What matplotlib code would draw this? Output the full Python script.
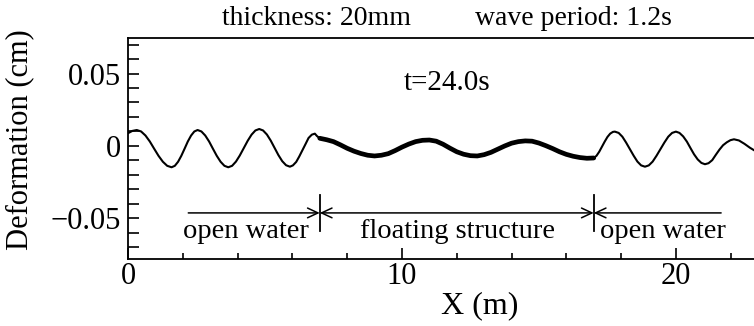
import matplotlib
matplotlib.use("Agg")
import matplotlib.pyplot as plt
from matplotlib.ticker import MultipleLocator

plt.rcParams['font.family'] = ['Liberation Serif', 'DejaVu Serif']

# left open-water segment (m, cm)
x_left = [0.00, 0.16, 0.32, 0.479, 0.638, 0.796, 0.955, 1.114, 1.273, 1.431, 1.59,
          1.709, 1.828, 1.946, 2.065, 2.184, 2.303, 2.421, 2.54,
          2.68, 2.82, 2.96, 3.10, 3.24, 3.38, 3.52, 3.66,
          3.80, 3.94, 4.08, 4.225, 4.37, 4.51, 4.65, 4.79,
          4.93, 5.07, 5.21, 5.35, 5.49, 5.63, 5.77, 5.91,
          6.02, 6.14, 6.25, 6.365, 6.48, 6.59, 6.71, 6.82, 6.90, 7.00]
y_left = [0.0088, 0.0104, 0.0110, 0.0100, 0.0072, 0.0031, -0.0019, -0.0068, -0.0109, -0.0137, -0.0147,
          -0.0137, -0.0109, -0.0068, -0.0019, 0.0031, 0.0072, 0.0100, 0.0110,
          0.0100, 0.0072, 0.0031, -0.0019, -0.0068, -0.0109, -0.0137, -0.0147,
          -0.0137, -0.0108, -0.0066, -0.0015, 0.0036, 0.0078, 0.0107, 0.0117,
          0.0107, 0.0079, 0.0037, -0.0013, -0.0063, -0.0105, -0.0133, -0.0143,
          -0.0134, -0.0110, -0.0073, -0.0030, 0.0013, 0.0055, 0.0078, 0.0085, 0.0068, 0.0053]

# floating structure segment
x_mid = [7.00, 7.25, 7.50, 7.75, 8.00, 8.25, 8.50, 8.75, 9.00, 9.25, 9.50, 9.75,
         10.00, 10.25, 10.50, 10.75, 11.00, 11.25, 11.50, 11.75, 12.00, 12.25, 12.50, 12.75,
         13.00, 13.25, 13.50, 13.75, 14.00, 14.25, 14.50, 14.75, 15.00, 15.25, 15.50, 15.75,
         16.00, 16.25, 16.50, 16.75, 17.00]
y_mid = [0.0053, 0.0043, 0.0030, 0.0008, -0.0016, -0.0036, -0.0052, -0.0064, -0.0069, -0.0064, -0.0053, -0.0032,
         -0.0008, 0.0013, 0.0030, 0.0039, 0.0041, 0.0033, 0.0012, -0.0015, -0.0040, -0.0057, -0.0067, -0.0069,
         -0.0060, -0.0044, -0.0022, 0.0000, 0.0019, 0.0030, 0.0035, 0.0033, 0.0020, 0.0002, -0.0018, -0.0040,
         -0.0058, -0.0071, -0.0080, -0.0085, -0.0083]

# right open-water segment
x_right = [17.00, 17.10, 17.20, 17.30, 17.40, 17.50, 17.60, 17.70, 17.77,
           17.91, 18.045, 18.18, 18.32, 18.46, 18.595, 18.73, 18.87,
           19.01, 19.15, 19.29, 19.435, 19.58, 19.72, 19.86, 20.00,
           20.13, 20.265, 20.40, 20.53, 20.66, 20.795, 20.93, 21.06,
           21.19, 21.325, 21.46, 21.59, 21.72, 21.855, 21.99, 22.12,
           22.30, 22.50, 22.70, 22.90]
y_right = [-0.0083, -0.0068, -0.0040, -0.0005, 0.0030, 0.0062, 0.0085, 0.0097, 0.0099,
           0.0090, 0.0064, 0.0024, -0.0022, -0.0068, -0.0108, -0.0134, -0.0143,
           -0.0134, -0.0108, -0.0068, -0.0022, 0.0024, 0.0064, 0.0090, 0.0099,
           0.0090, 0.0066, 0.0030, -0.0014, -0.0057, -0.0093, -0.0117, -0.0126,
           -0.0119, -0.0098, -0.0060, -0.0025, 0.0005, 0.0025, 0.0040, 0.0046,
           0.0038, 0.0015, -0.0012, -0.0035]

x_ticks = [0, 10, 20]
y_ticks = [-0.05, 0, 0.05]
y_tick_labels = ['\u22120.05', '0', '0.05']
boundaries = [7.0, 17.0]
region_labels = ['open water', 'floating structure', 'open water']
region_label_x = [4.29, 12.04, 19.53]
arrow_start = 2.2
arrow_end = 21.65

fig = plt.figure(figsize=(7.54, 3.26), dpi=100)
ax = fig.add_axes([128/754, (326-259)/326, 1 - 128/754, (259-38)/326])

ax.plot(x_left, y_left, color='black', lw=1.5, solid_joinstyle='round')
ax.plot(x_mid, y_mid, color='black', lw=3.4, solid_capstyle='round', solid_joinstyle='round')
ax.plot(x_right, y_right, color='black', lw=1.5, solid_joinstyle='round')

ax.set_xlim(0, 22.85)
ax.set_ylim(-0.078, 0.0745)

ax.spines['right'].set_visible(False)
for s in ['left', 'bottom', 'top']:
    ax.spines[s].set_linewidth(1.3)

ax.set_xticks(x_ticks)
ax.set_xticklabels([str(v) for v in x_ticks])
ax.xaxis.set_minor_locator(MultipleLocator(2))
ax.set_yticks(y_ticks)
ax.set_yticklabels(y_tick_labels)
ax.yaxis.set_minor_locator(MultipleLocator(0.01))
ax.tick_params(axis='both', which='both', direction='in', top=False, right=False, width=1.2)
ax.tick_params(axis='x', which='major', length=8, labelsize=22, pad=2)
ax.tick_params(axis='x', which='minor', length=4)
ax.tick_params(axis='y', which='both', length=8, labelsize=22, pad=5)

ax.set_xlabel('X (m)', fontsize=23, va='top')
ax.xaxis.set_label_coords((480 - 128) / 626, (259 - 291) / 221)
fig.text(20/754, 1 - 140/326, 'Deformation (cm)', fontsize=22, rotation=90, ha='center', va='center')

# region annotations
ya = -0.0462
arrow_kw = dict(lw=1.1, color='black', shrinkA=0, shrinkB=0)
ax.annotate('', xy=(boundaries[0], ya), xytext=(arrow_start, ya),
            arrowprops=dict(arrowstyle='->,head_length=0.75,head_width=0.35', **arrow_kw))
ax.annotate('', xy=(boundaries[1], ya), xytext=(boundaries[0], ya),
            arrowprops=dict(arrowstyle='<->,head_length=0.75,head_width=0.35', **arrow_kw))
ax.annotate('', xy=(boundaries[1], ya), xytext=(arrow_end, ya),
            arrowprops=dict(arrowstyle='->,head_length=0.75,head_width=0.35', **arrow_kw))
for b in boundaries:
    ax.plot([b, b], [-0.0338, -0.059], color='black', lw=1.3)
for lx, lt in zip(region_label_x, region_labels):
    ax.text(lx, -0.0638, lt, fontsize=20.5, ha='center', va='baseline')

ax.text(11.65, 0.0386, 't=24.0s', fontsize=21, ha='center', va='baseline')
fig.text(317/754, 1 - 25/326, 'thickness: 20mm', fontsize=20, ha='center', va='baseline')
fig.text(573/754, 1 - 25/326, 'wave period: 1.2s', fontsize=20, ha='center', va='baseline')

fig.savefig('out.png', dpi=100)
